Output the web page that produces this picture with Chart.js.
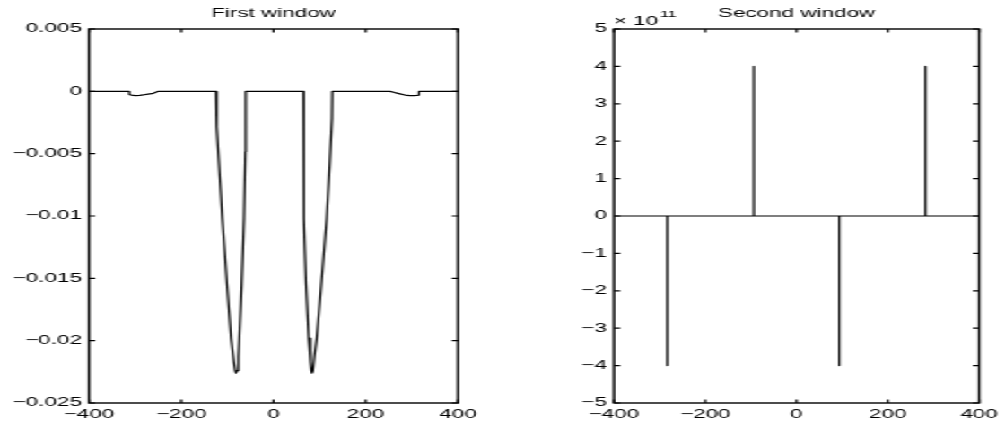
<!DOCTYPE html>
<html>
<head>
<meta charset="utf-8">
<script src="https://cdn.jsdelivr.net/npm/chart.js@4.4.1/dist/chart.umd.min.js"></script>
<style>
  html, body { margin: 0; padding: 0; background: #fff; overflow: hidden; }
  /* the reference figure is a 560 wide plot stretched out to 1005 px */
  #stage { position: absolute; left: 0; top: 0; width: 560px; height: 428px;
           transform: scaleX(1.794643); transform-origin: 0 0; }
  #leftBox { position: absolute; left: 0; top: 0; width: 270px; height: 428px; }
  #rightBox { position: absolute; left: 290px; top: 0; width: 270px; height: 428px; }
</style>
</head>
<body>
<div id="stage">
  <div id="leftBox"><canvas id="firstChart"></canvas></div>
  <div id="rightBox"><canvas id="secondChart"></canvas></div>
</div>
<script>
// ---- data ----
const xTicks = [-400, -200, 0, 200, 400];
const xLabels = ['\u2212400', '\u2212200', '0', '200', '400'];

const leftYTicks = [-0.025, -0.02, -0.015, -0.01, -0.005, 0, 0.005];
const leftYLabels = ['\u22120.025', '\u22120.02', '\u22120.015', '\u22120.01', '\u22120.005', '0', '0.005'];

const rightYTicks = [-5e11, -4e11, -3e11, -2e11, -1e11, 0, 1e11, 2e11, 3e11, 4e11, 5e11];
const rightYLabels = ['\u22125', '\u22124', '\u22123', '\u22122', '\u22121', '0', '1', '2', '3', '4', '5'];

// first window
const leftX = [-400, -312.6, -312.6, -305, -298, -290, -283, -272, -260.6, -255, -249.8,
  -124.7, -123.1, -111, -100.8, -92.1, -86, -83, -81.3, -79, -76, -74.1, -68.9, -63.9, -61.1, -60.3,
  64.6, 65.2, 66.1, 70.5, 76.3, 80, 82, 83.5, 85.5, 88.5, 93.7, 103.6, 115.3, 122, 126.8, 127.5,
  252.6, 263, 274.3, 285, 296, 304, 311.8, 315.4, 315.4, 400];
const leftY = [0, 0, -0.00026, -0.00033, -0.00035, -0.00033, -0.00029, -0.00022, -0.00016, -0.00007, 0,
  0, -0.00284, -0.0102, -0.0155, -0.0198, -0.0217, -0.0224, -0.0226, -0.0224, -0.0213, -0.0198, -0.0155, -0.0102, -0.00485, 0,
  0, -0.005, -0.0102, -0.0155, -0.0198, -0.0217, -0.0224, -0.0226, -0.0224, -0.0213, -0.0198, -0.0155, -0.0102, -0.0058, -0.00217, 0,
  0, -0.0001, -0.0002, -0.0003, -0.00035, -0.00034, -0.00032, -0.0003, 0, 0];

// second window
const rightX = [-400, -283, -283, -283, -93.6, -93.6, -93.6, 93.6, 93.6, 93.6, 282.5, 282.5, 282.5, 400];
const rightY = [0, 0, -4e11, 0, 0, 4e11, 0, 0, -4e11, 0, 0, 4e11, 0, 0];

const FONT = "'Liberation Sans', Arial, Helvetica, sans-serif";
Chart.defaults.font.family = FONT;
Chart.defaults.font.size = 12.5;
Chart.defaults.color = '#000';

// matlab style box with ticks pointing inwards on all four sides
const boxTicks = {
  id: 'boxTicks',
  afterDatasetsDraw(chart) {
    const { ctx, chartArea: a, scales: { x, y } } = chart;
    const len = 3.5;
    ctx.save();
    ctx.strokeStyle = '#000';
    ctx.lineWidth = 1.2;
    ctx.beginPath();
    x.ticks.forEach(t => {
      const px = x.getPixelForValue(t.value);
      ctx.moveTo(px, a.bottom); ctx.lineTo(px, a.bottom - len);
      ctx.moveTo(px, a.top); ctx.lineTo(px, a.top + len);
    });
    y.ticks.forEach(t => {
      const py = y.getPixelForValue(t.value);
      ctx.moveTo(a.left, py); ctx.lineTo(a.left + len, py);
      ctx.moveTo(a.right, py); ctx.lineTo(a.right - len, py);
    });
    ctx.stroke();
    ctx.lineWidth = 1.4;
    ctx.strokeRect(a.left, a.top, a.right - a.left, a.bottom - a.top);
    ctx.restore();
  }
};

// "x 10^11" over the second y axis
const exponentLabel = {
  id: 'exponentLabel',
  afterDraw(chart) {
    const { ctx, chartArea: a } = chart;
    ctx.save();
    ctx.fillStyle = '#000';
    ctx.textBaseline = 'alphabetic';
    ctx.font = '12.5px ' + FONT;
    ctx.fillText('\u00d7 10', a.left, 24.5);
    const w = ctx.measureText('\u00d7 10').width;
    ctx.font = '9px ' + FONT;
    ctx.fillText('11', a.left + w + 1, 16.5);
    ctx.restore();
  }
};

function makeChart(id, title, xs, ys, yMin, yMax, yTicks, yLabels, yWidth, padRight, extra) {
  return new Chart(document.getElementById(id), {
    type: 'scatter',
    data: {
      datasets: [{
        data: xs.map((x, i) => ({ x: x, y: ys[i] })),
        showLine: true,
        borderColor: '#000',
        borderWidth: 1.2,
        borderJoinStyle: 'round',
        pointRadius: 0,
        tension: 0
      }]
    },
    options: {
      responsive: true,
      maintainAspectRatio: false,
      animation: false,
      layout: { padding: { left: 0, right: padRight, top: 0, bottom: 0 } },
      scales: {
        x: {
          type: 'linear',
          min: -400,
          max: 400,
          grid: { display: false, drawTicks: false },
          border: { display: false },
          afterBuildTicks: s => { s.ticks = xTicks.map(v => ({ value: v })); },
          afterFit: s => { s.height = 25; },
          ticks: { padding: 4, maxRotation: 0, callback: (v, i) => xLabels[i] }
        },
        y: {
          type: 'linear',
          min: yMin,
          max: yMax,
          grid: { display: false, drawTicks: false },
          border: { display: false },
          afterBuildTicks: s => { s.ticks = yTicks.map(v => ({ value: v })); },
          afterFit: s => { s.width = yWidth; },
          ticks: { padding: 4, callback: (v, i) => yLabels[i] }
        }
      },
      plugins: {
        legend: { display: false },
        tooltip: { enabled: false },
        title: {
          display: true,
          text: title,
          fullSize: false,
          color: '#000',
          font: { size: 12.5, weight: 'normal' },
          padding: { top: 6, bottom: 8 }
        }
      }
    },
    plugins: [boxTicks].concat(extra)
  });
}

makeChart('firstChart', 'First window', leftX, leftY, -0.025, 0.005,
  leftYTicks, leftYLabels, 49.6, 14.8, []);
makeChart('secondChart', 'Second window', rightX, rightY, -5e11, 5e11,
  rightYTicks, rightYLabels, 52.1, 12.3, [exponentLabel]);
</script>
</body>
</html>
